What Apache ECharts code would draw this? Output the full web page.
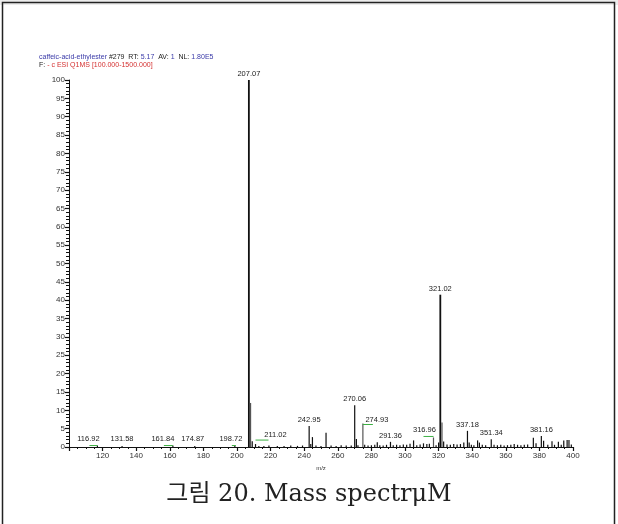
<!DOCTYPE html>
<html>
<head>
<meta charset="utf-8">
<script src="https://cdn.jsdelivr.net/npm/echarts@6/dist/echarts.min.js"></script>
<style>
  html, body { margin: 0; padding: 0; background: #fff; }
  #chart { width: 618px; height: 524px; }
</style>
</head>
<body>
<div id="chart"></div>
<script>
// Centroid peaks: m/z and relative abundance (%)
const peakMz = [
  116.92, 131.58, 161.84, 174.87, 198.72,
  207.07, 208.07, 209.07, 211.02, 213.0, 216.0, 219.0, 224.0, 228.0, 232.0, 236.0, 239.0,
  242.95, 243.9, 244.9, 247.0, 250.0, 253.0, 256.0, 259.0, 262.0, 265.0, 268.0,
  270.06, 271.06, 272.0, 274.93, 276.0, 278.0, 280.0, 282.0, 283.5, 285.0, 287.0, 289.0,
  291.36, 293.0, 295.0, 297.0, 299.0, 301.0, 303.0, 305.1, 307.0, 309.0, 311.0, 313.0, 314.5,
  316.96, 318.5, 320.0, 321.02, 322.02, 323.0, 325.0, 327.0, 329.0, 331.0, 333.0, 335.0,
  337.18, 338.2, 339.5, 341.0, 343.2, 344.3, 346.0, 348.0,
  351.34, 353.0, 355.0, 357.0, 359.0, 361.0, 363.0, 365.0, 367.0, 369.0, 371.0, 373.0,
  376.4, 378.0, 381.16, 382.5, 385.0, 387.5, 389.0, 391.3, 393.0, 394.5, 396.5, 397.6, 399.0
];
const peakAbundance = [
  0.4, 0.3, 0.4, 0.3, 0.4,
  100, 12, 1.6, 0.8, 0.3, 0.3, 0.4, 0.3, 0.3, 0.4, 0.3, 0.4,
  5.7, 0.8, 2.7, 0.4, 0.3, 3.9, 0.4, 0.3, 0.5, 0.4, 0.4,
  11.4, 2.2, 0.5, 6.4, 0.6, 0.4, 0.5, 0.6, 1.3, 0.5, 0.4, 0.6,
  1.4, 0.5, 0.6, 0.5, 0.7, 0.6, 0.9, 1.8, 0.5, 0.7, 1.0, 0.8, 0.9,
  2.6, 0.5, 1.2, 41.5, 6.7, 1.5, 0.7, 0.6, 0.8, 0.7, 0.8, 1.2,
  4.4, 1.2, 0.6, 0.5, 1.8, 1.2, 0.6, 0.5,
  2.1, 0.6, 0.5, 0.6, 0.4, 0.5, 0.6, 0.8, 0.6, 0.5, 0.6, 0.7,
  2.5, 1.0, 3.0, 1.7, 0.6, 1.6, 0.6, 1.4, 0.6, 1.8, 1.9, 1.9, 0.7
];
// Peaks annotated with their m/z
const labeledMz = [116.92, 131.58, 161.84, 174.87, 198.72, 207.07, 211.02, 242.95,
  270.06, 274.93, 291.36, 316.96, 321.02, 337.18, 351.34, 381.16];
// Axis ticks
const xTicks = { min: 100, max: 400, step: 20 };
const yTicks = { min: 0, max: 100, step: 5 };

// Peaks drawn in grey (isotope / profile-type sticks)
const greyPeaks = new Set([208.07, 274.93, 316.96, 322.02]);
// Label placement tweaks [dx, dy] in pixels and green leader lines
const labelShift = {
  116.92: [-9, -1], 131.58: [0, -1], 161.84: [-10, -1], 174.87: [-2, -1], 198.72: [-4, -1],
  211.02: [20, -3], 274.93: [14, 2], 316.96: [-9, -2]
};
const leaders = { 116.92: [-8, 0], 161.84: [-9, 0], 198.72: [-3, 1], 211.02: [0, 13], 274.93: [0, 10], 316.96: [-10, 0] };

const sticks = peakMz.map((m, i) => [m, peakAbundance[i]]);
const labels = labeledMz.map(m => [m, peakAbundance[peakMz.indexOf(m)]]);

const chart = echarts.init(document.getElementById('chart'), null, { renderer: 'canvas' });

const font = 'Liberation Sans, Arial, sans-serif';

chart.setOption({
  animation: false,
  backgroundColor: '#fff',
  grid: { left: 69, right: 45, top: 80, bottom: 77, containLabel: false },
  xAxis: {
    type: 'value', min: xTicks.min, max: xTicks.max, interval: xTicks.step,
    name: 'm/z', nameLocation: 'middle', nameGap: 17,
    nameTextStyle: { fontSize: 6, color: '#333', fontFamily: font },
    axisLine: { lineStyle: { color: '#111', width: 1 } },
    axisTick: { length: 4, lineStyle: { color: '#111', width: 1.2 } },
    minorTick: { show: true, splitNumber: 4, length: 2, lineStyle: { color: '#111', width: 1 } },
    axisLabel: { fontSize: 8, color: '#333', fontFamily: font, margin: 5, showMinLabel: false },
    splitLine: { show: false }
  },
  yAxis: {
    type: 'value', min: yTicks.min, max: yTicks.max, interval: yTicks.step,
    axisLine: { show: true, lineStyle: { color: '#111', width: 1 } },
    axisTick: { show: true, length: 4, lineStyle: { color: '#111', width: 1.2 } },
    minorTick: { show: true, splitNumber: 5, length: 3, lineStyle: { color: '#111', width: 1 } },
    axisLabel: { fontSize: 8, color: '#333', fontFamily: font, margin: 4 },
    splitLine: { show: false }
  },
  series: [
    {
      type: 'custom',
      data: sticks,
      renderItem: function (params, api) {
        const mz = api.value(0);
        const top = api.coord([mz, api.value(1)]);
        const base = api.coord([mz, 0]);
        const big = api.value(1) > 20;
        return {
          type: 'line',
          shape: { x1: top[0], y1: top[1], x2: base[0], y2: base[1] },
          style: { stroke: greyPeaks.has(mz) ? '#555' : '#111', lineWidth: big ? 1.8 : 1.2 }
        };
      },
      z: 3
    },
    {
      type: 'custom',
      data: labels,
      renderItem: function (params, api) {
        const mz = api.value(0);
        const top = api.coord([mz, api.value(1)]);
        const s = labelShift[mz] || [0, 0];
        const children = [{
          type: 'text',
          style: {
            text: mz.toFixed(2), x: top[0] + s[0], y: top[1] - 2 + s[1],
            align: 'center', verticalAlign: 'bottom',
            font: '7.5px ' + font, fill: '#222'
          }
        }];
        const ld = leaders[mz];
        if (ld) {
          const y = top[1] + s[1] + (mz === 274.93 || mz === 211.02 ? -1 : 1);
          children.push({
            type: 'line',
            shape: { x1: top[0] + ld[0], y1: y, x2: top[0] + ld[1], y2: y },
            style: { stroke: '#3cb043', lineWidth: 1 }
          });
        }
        return { type: 'group', children: children };
      },
      z: 4
    }
  ],
  graphic: [
    { type: 'rect', left: 0, top: 0, shape: { width: 618, height: 5 }, style: { fill: '#ececec' }, silent: true },
    { type: 'rect', left: 0, top: 0, shape: { x: 1, y: 5.5, width: 612, height: 530 },
      style: { fill: 'none', stroke: '#222', lineWidth: 1.5 }, silent: true },
    {
      type: 'text', left: 39, top: 54,
      style: {
        text: '{b|caffeic-acid-ethylester} {k|#279}  {k|RT:} {b|5.17}  {k|AV:} {b|1}  {k|NL:} {b|1.80E5}',
        rich: {
          b: { fill: '#3a3aa8', font: '7px ' + font },
          k: { fill: '#222', font: '7px ' + font }
        },
        font: '7px ' + font
      }
    },
    {
      type: 'text', left: 39, top: 62,
      style: {
        text: '{k|F:} {r|- c ESI Q1MS [100.000-1500.000]}',
        rich: {
          r: { fill: '#d43030', font: '7px ' + font },
          k: { fill: '#222', font: '7px ' + font }
        },
        font: '7px ' + font
      }
    },
    {
      type: 'text', left: 'center', top: 483,
      style: {
        text: '그림 20. Mass spectrμM',
        font: '24px "DejaVu Serif", "Noto Sans CJK KR", serif',
        fill: '#222'
      }
    }
  ]
});
</script>
</body>
</html>
